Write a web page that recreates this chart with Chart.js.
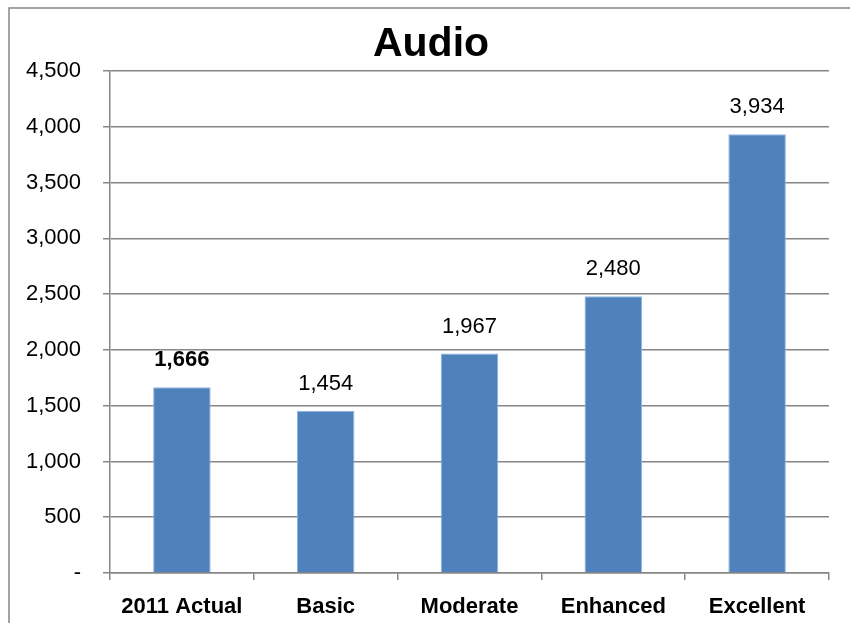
<!DOCTYPE html>
<html><head><meta charset="utf-8">
<script src="https://cdn.jsdelivr.net/npm/chart.js@4"></script>
<style>html,body{margin:0;padding:0;background:#fff}#wrap{width:850px;height:623px}</style>
</head><body><div id="wrap"><canvas id="c" width="850" height="623"></canvas></div>
<script>
const categories = ["2011 Actual", "Basic", "Moderate", "Enhanced", "Excellent"];
const audioValues = [1666, 1454, 1967, 2480, 3934];
const boldLabelIndex = [0];
const chartTitle = 'Audio';
const yTickStep = 500;
const yMax = 4500;

const FONT = "'Liberation Sans', Arial, sans-serif";
const GRID = '#868686';

const framePlugin = {
  id: 'frame',
  beforeDraw(chart) {
    const ctx = chart.ctx;
    ctx.save();
    ctx.fillStyle = '#fff';
    ctx.fillRect(0, 0, chart.width, chart.height);
    ctx.strokeStyle = GRID;
    ctx.lineWidth = 1.5;
    ctx.strokeRect(9, 8, 900, 700);
    ctx.fillStyle = '#000';
    ctx.textAlign = 'center';
    ctx.textBaseline = 'middle';
    ctx.font = 'bold 41px ' + FONT;
    ctx.fillText(chartTitle, 431, 45);
    ctx.restore();
  }
};

const labelPlugin = {
  id: 'valLabels',
  afterDatasetsDraw(chart) {
    const ctx = chart.ctx;
    const meta = chart.getDatasetMeta(0);
    ctx.save();
    ctx.fillStyle = '#000';
    ctx.textAlign = 'center';
    ctx.textBaseline = 'middle';
    meta.data.forEach((bar, i) => {
      const bold = boldLabelIndex.includes(i);
      ctx.font = (bold ? 'bold ' : '') + '22px ' + FONT;
      ctx.fillText(audioValues[i].toLocaleString('en-US'), bar.x, bar.y - 27);
    });
    ctx.restore();
  }
};

new Chart(document.getElementById('c'), {
  type: 'bar',
  data: {
    labels: categories,
    datasets: [{
      data: audioValues,
      backgroundColor: '#4F81BD',
      borderColor: '#8EB4E3',
      borderWidth: {left: 1, right: 1, top: 1, bottom: 0},
      barPercentage: 0.4,
      categoryPercentage: 1.0
    }]
  },
  options: {
    responsive: false,
    animation: false,
    devicePixelRatio: 1,
    layout: {padding: {left: 10, right: 21, top: 71, bottom: 0}},
    plugins: {
      legend: {display: false},
      tooltip: {enabled: false},
      title: {display: false}
    },
    scales: {
      x: {
        grid: {display: true, drawOnChartArea: false, drawTicks: true, tickLength: 7, color: GRID, lineWidth: 1.5, offset: true},
        border: {display: true, color: GRID, width: 1.5},
        ticks: {color: '#000', font: {family: FONT, size: 22, weight: 'bold'}, padding: 14, maxRotation: 0},
        afterFit(scale) { scale.height = 50; }
      },
      y: {
        min: 0,
        max: yMax,
        grid: {color: GRID, lineWidth: 1.5, tickLength: 7},
        border: {display: true, color: GRID, width: 1.5},
        ticks: {
          stepSize: yTickStep,
          color: '#000',
          font: {family: FONT, size: 22},
          padding: 22,
          callback: v => v === 0 ? '-' : v.toLocaleString('en-US')
        },
        afterFit(scale) { scale.width = 100; }
      }
    }
  },
  plugins: [framePlugin, labelPlugin]
});
</script>
</body></html>
